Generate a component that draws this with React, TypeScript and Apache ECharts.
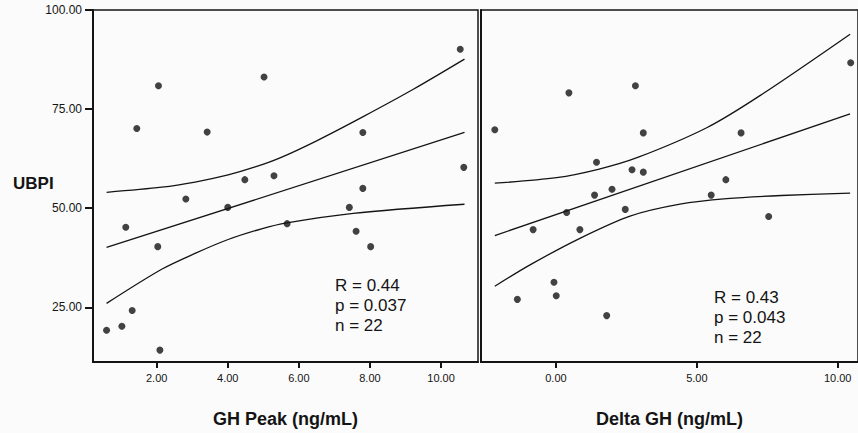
import React, { useEffect, useRef } from "react";
import * as echarts from "echarts";

// Left panel: GH Peak vs UBPI
const ghPeak = [2.05, 1.44, 5.02, 3.42, 2.82, 4.0, 4.48, 5.3, 1.13, 2.03, 5.67, 0.59, 1.02, 1.31, 2.09, 10.54, 7.8, 10.64, 7.8, 7.42, 7.61, 8.02];
const ubpiPeak = [80.9, 70.1, 83.1, 69.2, 52.3, 50.2, 57.2, 58.2, 45.2, 40.3, 46.1, 19.2, 20.2, 24.2, 14.2, 90.1, 69.1, 60.3, 55.0, 50.2, 44.2, 40.3];
const meanPeak = [[0.59, 40.1], [10.66, 69.1]];
const upperPeak = [[0.59, 54.0], [2.14, 55.3], [3.08, 56.6], [4.01, 58.4], [4.77, 60.4], [5.47, 62.7], [6.5, 67.0], [7.81, 73.1], [9.22, 80.0], [10.66, 87.6]];
const lowerPeak = [[0.59, 26.0], [2.14, 34.6], [3.08, 38.6], [4.01, 42.1], [4.95, 44.8], [5.66, 46.3], [7.53, 48.7], [10.66, 51.0]];

// Right panel: Delta GH vs UBPI
const deltaGH = [-2.17, 0.46, 0.38, -0.81, 0.85, -0.07, 0.01, -1.37, 2.82, 3.1, 6.57, 10.46, 1.44, 2.7, 3.1, 6.03, 1.99, 1.37, 5.51, 2.46, 7.55, 1.8];
const ubpiDelta = [69.8, 79.1, 48.9, 44.6, 44.6, 31.3, 27.9, 27.0, 80.9, 69.0, 69.0, 86.7, 61.6, 59.7, 59.1, 57.2, 54.8, 53.3, 53.3, 49.7, 47.9, 22.9];
const meanDelta = [[-2.17, 43.1], [10.44, 73.8]];
const upperDelta = [[-2.17, 56.3], [0.02, 57.7], [1.5, 59.8], [2.9, 62.8], [5.35, 70.3], [7.24, 78.4], [10.44, 93.9]];
const lowerDelta = [[-2.17, 30.3], [-0.92, 35.7], [0.85, 42.4], [2.63, 48.0], [4.4, 51.0], [6.06, 52.4], [8.0, 53.2], [10.44, 53.8]];

// Ticks and texts
const yTicks = [25, 50, 75, 100];
const xTicksPeak = [2, 4, 6, 8, 10];
const xTicksDelta = [0, 5, 10];
const statsPeak = ["R = 0.44", "p = 0.037", "n = 22"];
const statsDelta = ["R = 0.43", "p = 0.043", "n = 22"];

const FONT = "'Liberation Sans', Arial, sans-serif";
const INK = "#141414";

export default function App() {
  const ref = useRef<HTMLDivElement>(null);
  useEffect(() => {
    if (!ref.current) return;
    const chart = echarts.init(ref.current, undefined, { renderer: "svg" });
    const fmt = (v: number) => v.toFixed(2);
    const lineSeries = (data: number[][], idx: number) => ({
      type: "line",
      xAxisIndex: idx,
      yAxisIndex: idx,
      data,
      symbol: "none",
      smooth: 0.3,
      lineStyle: { color: INK, width: 1.3 },
      z: 3,
    });
    const xAxisBase = (idx: number, min: number, max: number, ticks: number[], name: string) => ({
      type: "value",
      gridIndex: idx,
      min,
      max,
      splitLine: { show: false },
      axisLine: { show: true, onZero: false, lineStyle: { color: INK, width: 2 } },
      axisTick: { show: true, length: 6, customValues: ticks, lineStyle: { color: INK, width: 2 } },
      axisLabel: { customValues: ticks, formatter: fmt, color: INK, fontSize: 11, fontFamily: FONT, margin: 10 },
      name,
      nameLocation: "middle",
      nameGap: 48,
      nameTextStyle: { color: INK, fontSize: 18, fontWeight: "bold", fontFamily: FONT },
    });
    const statTexts = (lines: string[], x: number, y0: number) =>
      lines.map((t, i) => ({
        type: "text",
        x,
        y: y0 + i * 20,
        style: { text: t, fontSize: 17, fontFamily: FONT, fill: INK, verticalAlign: "middle" },
      }));
    chart.setOption({
      animation: false,
      backgroundColor: "#fbfbfb",
      grid: [
        { left: 93, top: 10, width: 385, height: 363, show: true, borderColor: INK, borderWidth: 1.5 },
        { left: 481, top: 10, width: 377, height: 363, show: true, borderColor: INK, borderWidth: 1.5 },
      ],
      xAxis: [
        xAxisBase(0, 0.208, 11.04, xTicksPeak, "GH Peak (ng/mL)"),
        xAxisBase(1, -2.66, 10.72, xTicksDelta, "Delta GH (ng/mL)"),
      ],
      yAxis: [
        {
          type: "value",
          gridIndex: 0,
          min: 11.2,
          max: 100,
          splitLine: { show: false },
          axisLine: { show: true, onZero: false, lineStyle: { color: INK, width: 2 } },
          axisTick: { show: true, length: 8, customValues: yTicks, lineStyle: { color: INK, width: 2 } },
          axisLabel: { customValues: yTicks, formatter: fmt, color: INK, fontSize: 12, fontFamily: FONT, margin: 11 },
        },
        {
          type: "value",
          gridIndex: 1,
          min: 11.2,
          max: 100,
          splitLine: { show: false },
          axisLine: { show: true, onZero: false, lineStyle: { color: INK, width: 2 } },
          axisTick: { show: false },
          axisLabel: { show: false },
        },
      ],
      series: [
        {
          type: "scatter",
          xAxisIndex: 0,
          yAxisIndex: 0,
          data: ghPeak.map((x, i) => [x, ubpiPeak[i]]),
          symbolSize: 7,
          itemStyle: { color: INK },
          z: 4,
        },
        lineSeries(meanPeak, 0),
        lineSeries(upperPeak, 0),
        lineSeries(lowerPeak, 0),
        {
          type: "scatter",
          xAxisIndex: 1,
          yAxisIndex: 1,
          data: deltaGH.map((x, i) => [x, ubpiDelta[i]]),
          symbolSize: 7,
          itemStyle: { color: INK },
          z: 4,
        },
        lineSeries(meanDelta, 1),
        lineSeries(upperDelta, 1),
        lineSeries(lowerDelta, 1),
      ],
      graphic: [
        {
          type: "text",
          x: 13,
          y: 183,
          style: { text: "UBPI", fontSize: 17, fontWeight: "bold", fontFamily: FONT, fill: INK, verticalAlign: "middle" },
        },
        ...statTexts(statsPeak, 335, 285),
        ...statTexts(statsDelta, 714, 297),
      ],
    });
    return () => chart.dispose();
  }, []);
  return (
    <div
      ref={ref}
      style={{ position: "fixed", left: 0, top: 0, width: 858, height: 433 }}
    />
  );
}
